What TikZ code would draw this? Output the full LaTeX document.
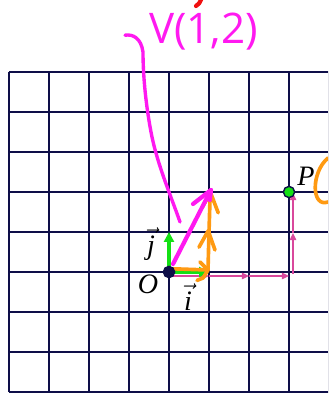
\documentclass[tikz,border=0pt]{standalone}
\usepackage{fontspec}
\setmainfont{Liberation Serif}
\newfontfamily\handfont{Open Sans}
\usetikzlibrary{arrows.meta, positioning}
\definecolor{GridNavy}{HTML}{0E0E48}
\definecolor{VecGreen}{HTML}{14E014}
\definecolor{VecPink}{HTML}{D9489C}
\definecolor{PenOrange}{HTML}{FF9A12}
\definecolor{PenMagenta}{HTML}{FF19F0}
\definecolor{PenRed}{HTML}{F01010}
\tikzset{
    gridline/.style={
        draw=GridNavy,
        line width=1.5pt
    },
    basevec/.style={
        -{Triangle[length=7pt,width=7pt]},
        VecGreen,
        line width=2.2pt
    },
    stepvec/.style={
        -{Triangle[length=5pt,width=4.5pt]},
        VecPink,
        line width=1pt
    },
    pen/.style={
        draw=#1,
        line width=2.6pt,
        line cap=round,
        line join=round
    },
    pen/.default=PenOrange,
    ptlabel/.style={
        font=\fontsize{20}{24}\selectfont\itshape,
        inner sep=0pt
    },
    gpoint/.style={
        circle,
        fill=#1,
        draw=GridNavy,
        line width=1pt,
        minimum size=8pt,
        inner sep=0pt
    },
    gpoint/.default=GridNavy
}
\begin{document}
\begin{tikzpicture}
        % Frame
        \useasboundingbox (-4.225,-3.025) rectangle (3.975,6.8);
        \clip (-4.225,-3.025) rectangle (3.975,6.8);

        % Grid
        \draw[gridline] (-4,-3) grid (4.5,5);

        % Points
        \coordinate (O) at (0,0);
        \coordinate (I) at (1,0);
        \coordinate (J) at (0,1);
        \coordinate (V) at (1.05,2.05);
        \coordinate (s0) at (0,-0.1);
        \coordinate (s1) at (1,-0.1);
        \coordinate (s2) at (2,-0.1);
        \coordinate (s3) at (3,-0.1);
        \coordinate (t0) at (3.1,-0.05);
        \coordinate (t1) at (3.1,0.975);
        \coordinate (t2) at (3.1,1.975);

        % Path O -> P
        \draw[stepvec] (s0) -- (s1);
        \draw[stepvec] (s1) -- (s2);
        \draw[stepvec] (s2) -- (s3);
        \draw[stepvec] (t0) -- (t1);
        \draw[stepvec] (t1) -- (t2);

        % Base vectors
        \draw[basevec] (O) -- (I);
        \draw[basevec] (O) -- (J);

        % Orange pen
        \draw[pen] (0.1,0.08) -- (0.975,0.05);
        \draw[pen] (0.775,0.25) -- (0.975,0.05) -- (0.85,-0.15) -- (0.7,-0.21);
        \draw[pen] (0.975,0.05) -- (1,1);
        \draw[pen] (0.75,0.62) -- (0.98,1.03) -- (1.15,0.55);
        \draw[pen] (1,1) -- (1.03,1.98);
        \draw[pen] (0.82,1.6) -- (1.04,1.98) -- (1.23,1.48);
        \draw[pen] (3.975,2.85) .. controls (3.55,2.5) and (3.55,1.6) .. (3.975,1.75);

        % Magenta pen
        \draw[pen=PenMagenta, line width=3pt] (0.1,0.2) -- (V);
        \draw[pen=PenMagenta, line width=3pt] (0.6,1.7) -- (V) -- (1.02,1.8);
        \draw[pen=PenMagenta, line width=2.4pt] (0.275,1.25) .. controls (0.05,1.9) and (-0.3,2.7) .. (-0.45,3.5)
            .. controls (-0.6,4.3) and (-0.65,5.0) .. (-0.65,5.5)
            .. controls (-0.7,5.85) and (-0.9,5.95) .. (-1.1,5.92);
        \node[PenMagenta, font=\handfont\fontsize{30}{34}\selectfont, anchor=base, inner sep=0pt] (vlabel) at (0.86,5.7) {V(1,2)};
        \draw[pen=PenRed, line width=3pt] (0.675,6.65) .. controls (0.75,6.7) .. (0.82,6.85);

        % Marked points
        \node[gpoint] (Odot) at (O) {};
        \node[gpoint=VecGreen] (Pdot) at (3,2) {};

        % Labels
        \node[ptlabel] (Olabel) at (-0.525,-0.3) {O};
        \node[ptlabel] (jlabel) at (-0.45,0.7) {$\vec{\textit{j}}$};
        \node[ptlabel] (ilabel) at (0.475,-0.62) {$\vec{\textit{i}}$};
        \node[ptlabel] (Plabel) at (3.425,2.4) {P};
    \end{tikzpicture}
\end{document}
